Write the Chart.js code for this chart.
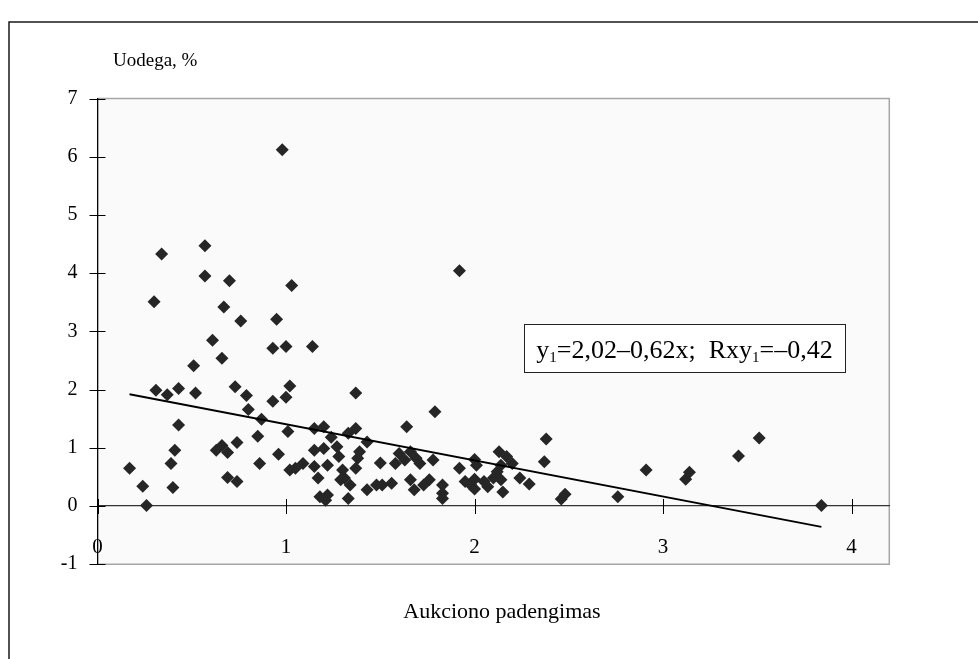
<!DOCTYPE html>
<html>
<head>
<meta charset="utf-8">
<script src="https://cdn.jsdelivr.net/npm/chart.js@4.4.1/dist/chart.umd.min.js"></script>
<style>
  html, body { margin: 0; padding: 0; background: #ffffff; }
  #wrap { position: relative; width: 978px; height: 659px; }
  canvas { display: block; }
</style>
</head>
<body>
<div id="wrap"><canvas id="c" width="978" height="659"></canvas></div>
<script>
// ---- data ----
const xValues = [
  0.17,0.24,0.26,0.30,0.31,0.34,0.37,0.39,0.40,0.41,0.43,0.43,0.51,0.52,0.57,0.57,0.61,0.63,0.67,0.66,
  0.66,0.69,0.69,0.70,0.73,0.74,0.74,0.76,0.79,0.80,0.85,0.86,0.87,0.93,0.93,0.95,0.96,0.98,1.00,1.00,
  1.02,1.01,1.02,1.03,1.05,1.09,1.14,1.15,1.15,1.15,1.17,1.18,1.20,1.20,1.21,1.22,1.22,1.24,1.27,1.28,
  1.29,1.30,1.31,1.33,1.33,1.34,1.37,1.37,1.37,1.38,1.39,1.43,1.43,1.48,1.50,1.51,1.56,1.58,1.60,1.63,
  1.64,1.66,1.66,1.68,1.69,1.71,1.73,1.76,1.78,1.79,1.83,1.83,1.83,1.92,1.92,1.95,1.98,2.00,2.01,2.00,
  2.00,2.05,2.07,2.10,2.12,2.13,2.14,2.14,2.15,2.17,2.20,2.24,2.29,2.37,2.38,2.46,2.48,2.76,2.91,3.12,
  3.14,3.40,3.51,3.84
];
const yValues = [
  0.65,0.34,0.01,3.51,1.99,4.33,1.91,0.73,0.32,0.96,2.02,1.39,2.41,1.94,4.47,3.95,2.85,0.96,3.42,2.54,
  1.04,0.92,0.49,3.87,2.05,1.09,0.42,3.18,1.90,1.66,1.20,0.73,1.49,2.71,1.80,3.21,0.89,6.12,2.74,1.87,
  2.06,1.28,0.62,3.79,0.65,0.73,2.74,1.33,0.96,0.68,0.48,0.16,1.36,0.99,0.10,0.70,0.19,1.18,1.02,0.85,
  0.45,0.62,0.48,1.25,0.13,0.36,1.33,1.94,0.65,0.82,0.93,1.10,0.28,0.36,0.74,0.36,0.39,0.73,0.90,0.79,
  1.36,0.93,0.45,0.28,0.82,0.73,0.36,0.45,0.79,1.62,0.36,0.22,0.13,4.04,0.65,0.42,0.36,0.80,0.70,0.46,
  0.29,0.42,0.33,0.48,0.59,0.93,0.70,0.45,0.24,0.85,0.73,0.48,0.38,0.76,1.15,0.12,0.20,0.16,0.62,0.46,
  0.58,0.86,1.17,0.01
];
// trend line end points
const trendX = [0.17, 3.84];
const trendY = [1.92, -0.36];

const xTickValues = [0, 1, 2, 3, 4];
const yTickValues = [-1, 0, 1, 2, 3, 4, 5, 6, 7];
const xRange = [0, 4.2];
const yRange = [-1, 7];

const yTitle = 'Uodega, %';
const xTitle = 'Aukciono padengimas';
const eqParts = [
  {t: 'y', sub: false}, {t: '1', sub: true}, {t: '=2,02\u20130,62x;  Rxy', sub: false},
  {t: '1', sub: true}, {t: '=\u20130,42', sub: false}
];

// ---- chart ----
const FONT = '"Liberation Serif", "Times New Roman", serif';

const points = xValues.map((x, i) => ({x: x, y: yValues[i]}));
const trend = trendX.map((x, i) => ({x: x, y: trendY[i]}));

const decorPlugin = {
  id: 'decor',
  beforeDraw(chart) {
    const ctx = chart.ctx;
    const a = chart.chartArea;
    ctx.save();
    ctx.fillStyle = '#ffffff';
    ctx.fillRect(0, 0, chart.width, chart.height);
    // outer frame
    ctx.strokeStyle = '#1a1a1a';
    ctx.lineWidth = 1.5;
    ctx.beginPath();
    ctx.moveTo(9, chart.height + 2);
    ctx.lineTo(9, 22);
    ctx.lineTo(chart.width + 2, 22);
    ctx.stroke();
    // plot area
    ctx.fillStyle = '#fafafa';
    ctx.fillRect(a.left, a.top, a.right - a.left, a.bottom - a.top);
    ctx.strokeStyle = '#a6a6a6';
    ctx.lineWidth = 1.5;
    ctx.beginPath();
    ctx.moveTo(a.left, a.top);
    ctx.lineTo(a.right, a.top);
    ctx.lineTo(a.right, a.bottom);
    ctx.lineTo(a.left, a.bottom);
    ctx.stroke();
    ctx.restore();
  },
  afterDatasetsDraw(chart) {
    const ctx = chart.ctx;
    const xs = chart.scales.x, ys = chart.scales.y;
    const y0 = ys.getPixelForValue(0);
    const xa = xs.getPixelForValue(0);
    ctx.save();
    // cross tick marks
    ctx.strokeStyle = '#000000';
    ctx.lineWidth = 1;
    ctx.beginPath();
    xTickValues.forEach(v => {
      const px = Math.round(xs.getPixelForValue(v)) + 0.5;
      ctx.moveTo(px, y0 - 7);
      ctx.lineTo(px, y0 + 8);
    });
    yTickValues.forEach(v => {
      const py = Math.round(ys.getPixelForValue(v)) + 0.5;
      ctx.moveTo(xa - 8, py);
      ctx.lineTo(xa + 8, py);
    });
    ctx.stroke();

    // titles
    ctx.fillStyle = '#000000';
    ctx.textBaseline = 'middle';
    ctx.textAlign = 'left';
    ctx.font = '19px ' + FONT;
    ctx.fillText(yTitle, 113, 61);
    ctx.textAlign = 'center';
    ctx.font = '22px ' + FONT;
    ctx.fillText(xTitle, 502, 612);

    // equation box
    const bx = 524, by = 324, bw = 321, bh = 48;
    ctx.fillStyle = '#ffffff';
    ctx.fillRect(bx, by, bw, bh);
    ctx.strokeStyle = '#222222';
    ctx.lineWidth = 1;
    ctx.strokeRect(bx + 0.5, by + 0.5, bw, bh);
    const mainFont = '26px ' + FONT;
    const subFont = '15px ' + FONT;
    let total = 0;
    eqParts.forEach(p => { ctx.font = p.sub ? subFont : mainFont; total += ctx.measureText(p.t).width; });
    let cx = bx + (bw - total) / 2;
    const base = by + 34;
    ctx.textAlign = 'left';
    ctx.textBaseline = 'alphabetic';
    ctx.fillStyle = '#000000';
    eqParts.forEach(p => {
      ctx.font = p.sub ? subFont : mainFont;
      ctx.fillText(p.t, cx, p.sub ? base + 4 : base);
      cx += ctx.measureText(p.t).width;
    });
    ctx.restore();
  }
};

const chart = new Chart(document.getElementById('c'), {
  type: 'scatter',
  data: {
    datasets: [
      {
        label: 'Uodega',
        data: points,
        pointStyle: 'rectRot',
        pointRadius: 6.5,
        pointHoverRadius: 6.5,
        backgroundColor: '#262626',
        borderColor: '#262626',
        borderWidth: 0,
        order: 2
      },
      {
        type: 'line',
        label: 'Trend',
        data: trend,
        borderColor: '#000000',
        borderWidth: 1.8,
        pointRadius: 0,
        fill: false,
        order: 1
      }
    ]
  },
  options: {
    responsive: false,
    animation: false,
    events: [],
    layout: { padding: { left: 0, top: 98.6, right: 88.7, bottom: 94.8 } },
    plugins: { legend: { display: false }, tooltip: { enabled: false }, title: { display: false } },
    scales: {
      x: {
        type: 'linear',
        position: { y: 0 },
        min: xRange[0], max: xRange[1],
        afterFit(s) { s.height = 0; },
        afterBuildTicks(s) { s.ticks = xTickValues.map(v => ({value: v})); },
        grid: { display: false, drawTicks: false },
        border: { display: true, color: '#333333', width: 1.2 },
        ticks: {
          padding: 29,
          color: '#000000',
          font: { family: FONT, size: 21 },
          maxRotation: 0,
          callback: v => String(v)
        }
      },
      y: {
        type: 'linear',
        position: 'left',
        min: yRange[0], max: yRange[1],
        afterFit(s) { s.width = 97.5; },
        afterBuildTicks(s) { s.ticks = yTickValues.map(v => ({value: v})); },
        grid: { display: false, drawTicks: false },
        border: { display: true, color: '#000000', width: 1.3 },
        ticks: {
          padding: 20,
          color: '#000000',
          font: { family: FONT, size: 20 },
          callback: v => String(v)
        }
      }
    }
  },
  plugins: [decorPlugin]
});
</script>
</body>
</html>
